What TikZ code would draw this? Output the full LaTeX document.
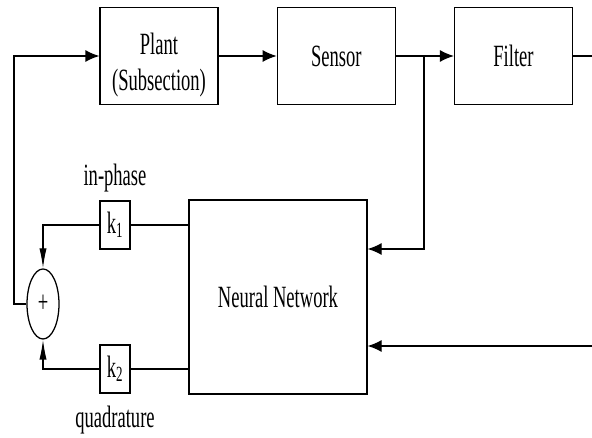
\documentclass[tikz,border=0pt]{standalone}
\usepackage{fontspec}
\setmainfont[FakeStretch=0.6]{Liberation Serif}
\usetikzlibrary{positioning}
\usetikzlibrary{shapes.geometric}
\usetikzlibrary{arrows.meta}

\begin{document}
\begin{tikzpicture}[
        >={Latex[length=3.5mm,width=3mm]}, line width=0.9pt,
        block/.style={draw, minimum width=2.95cm, minimum height=2.42cm,
                      align=center, font=\fontsize{22}{26}\selectfont},
        gain/.style={draw, minimum width=0.75cm, minimum height=1.2cm,
                     inner sep=0pt, font=\fontsize{22}{26}\selectfont},
        tag/.style={font=\fontsize{22}{26}\selectfont},
        uparrow/.style={-{Latex[length=5mm,width=1.8mm]}},
    ]
    \useasboundingbox (0,0) rectangle (14.8,10.95);

    % forward path
    \node[block, text height=1.9cm] (plant) at (3.975,9.55) {Plant\\(Subsection)};
    \node[block, right=1.45cm of plant] (sensor) {Sensor};
    \node[block, right=1.45cm of sensor] (filter) {Filter};

    \node[block, minimum width=4.45cm, minimum height=4.85cm] (nn) at (6.95,3.525) {Neural Network};

    % gains and summer
    \node[gain] (k1) at (2.875,5.325) {k\textsubscript{1}};
    \node[gain] (k2) at (2.875,1.725) {k\textsubscript{2}};
    \node[tag, above=0.375cm of k1, anchor=base] (inphase) {in-phase};
    \node[tag, below=0.85cm of k2, anchor=base] (quad) {quadrature};

    \node[draw, ellipse, minimum width=0.8cm, minimum height=1.75cm, inner sep=0pt,
          font=\fontsize{22}{24}\selectfont] (sum) at (1.075,3.35) {+};

    \coordinate (out) at (14.8,9.55);
    \coordinate (tap) at (10.6,9.55);
    \coordinate (tapin) at (10.6,4.725);
    \coordinate (ext) at (14.8,2.3);
    \coordinate (fb) at (0.35,3.35);

    \draw[->] (plant) -- (sensor);
    \draw[->] (sensor) -- (filter);
    \draw (filter) -- (out);

    \draw[->] (tap) -- (tapin) -- (tapin -| nn.east);
    \draw[->] (ext) -- (ext -| nn.east);

    \draw (k1) -- (k1 -| nn.west);
    \draw (k2) -- (k2 -| nn.west);
    \draw[uparrow] (k1.west) -| (sum.north);
    \draw[uparrow] (k2.west) -| (sum.south);

    \draw[->] (sum.west) -- (fb) |- (plant.west);

\end{tikzpicture}
\end{document}
